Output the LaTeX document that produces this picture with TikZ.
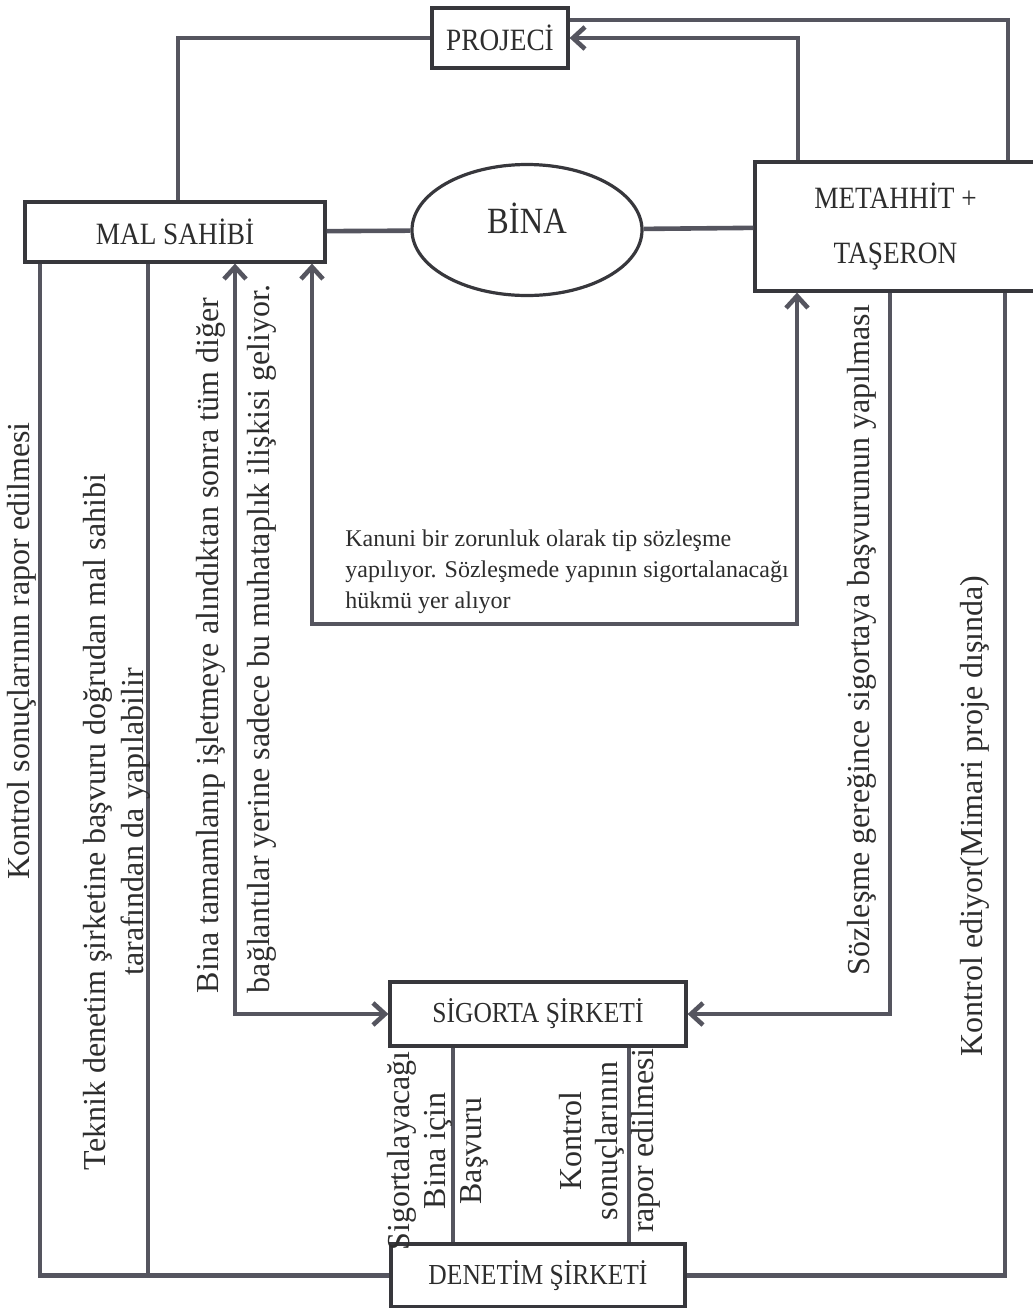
\documentclass[tikz,border=0pt]{standalone}
\usepackage{fontspec}
\setmainfont{Liberation Serif}
\newfontfamily\condfont{Liberation Serif}[FakeStretch=0.88]
\usetikzlibrary{shapes.geometric, arrows.meta}
\usepackage{xcolor}

\definecolor{linec}{RGB}{85,85,95}
\definecolor{boxc}{RGB}{55,55,60}
\definecolor{txtc}{RGB}{45,45,45}

\newcommand{\boxfont}{\condfont\fontsize{15.5}{18}\selectfont}
\newcommand{\firmfont}{\condfont\fontsize{14.5}{17}\selectfont}
\newcommand{\binafont}{\condfont\fontsize{18.5}{22}\selectfont}
\newcommand{\sidefont}{\fontsize{16}{19}\selectfont}
\newcommand{\bottomfont}{\fontsize{16}{18}\selectfont}
\newcommand{\notefont}{\fontsize{12}{15.5}\selectfont}

\tikzset{
    box/.style={draw=boxc, line width=1.6pt, fill=white, text=txtc, font=\boxfont, inner sep=2pt},
    link/.style={draw=linec, line width=2.3pt},
    arr/.style={link, -{Straight Barb[length=6pt, width=11pt]}},
    arr2/.style={link, {Straight Barb[length=6pt, width=11pt]}-{Straight Barb[length=6pt, width=11pt]}},
    side/.style={rotate=90, font=\sidefont, text=txtc, inner sep=0pt}
}

\begin{document}
\begin{tikzpicture}[x=0.5pt, y=-0.5pt]
        \useasboundingbox (0,0) rectangle (1033,1308);

        % Boxes
        \node[box, minimum width=68pt, minimum height=30pt] (proj) at (500,38) {PROJECİ};
        \node[box, minimum width=150pt, minimum height=30pt] (mal) at (175,232) {MAL SAHİBİ};
        \node[ellipse, draw=boxc, line width=1.6pt, text=txtc, font=\binafont, text depth=12pt,
              minimum width=115pt, minimum height=65.5pt] (bina) at (527,230) {BİNA};
        \node[box, align=center, minimum width=140.5pt, minimum height=64.5pt] (meta) at (895.5,226.5) {METAHHİT +\\[10pt]TAŞERON};
        \node[box, font=\firmfont, minimum width=148pt, minimum height=32pt] (sig) at (538,1014) {SİGORTA ŞİRKETİ};
        \node[box, font=\firmfont, minimum width=147pt, minimum height=31.5pt] (den) at (538,1275.5) {DENETİM ŞİRKETİ};

        % Bend points
        \coordinate (upL) at (178,0);
        \coordinate (upR) at (1008,20);
        \coordinate (upM) at (798,0);
        \coordinate (outL) at (40,0);
        \coordinate (inL) at (148,0);
        \coordinate (sigL) at (235,0);
        \coordinate (kanL) at (312,624);
        \coordinate (kanR) at (797,624);
        \coordinate (sigR) at (890,0);
        \coordinate (outR) at (1005,0);
        \coordinate (denL) at (453,0);
        \coordinate (denR) at (629,0);

        % Top links
        \draw[link] (mal.north -| upL) |- (proj.west);
        \draw[link] (proj.east |- upR) -| (meta.north -| upR);
        \draw[arr] (meta.north -| upM) |- (proj.east);
        \draw[link] (mal) -- (bina);
        \draw[link] (bina) -- (meta);

        % Links down to the companies
        \draw[link] (mal.south -| outL) |- (den.west);
        \draw[link] (mal.south -| inL) -- (den.west -| inL);
        \draw[arr2] (mal.south -| sigL) |- (sig.west);
        \draw[arr2] (mal.south -| kanL) -- (kanL) -- (kanR) -- (meta.south -| kanR);
        \draw[arr] (meta.south -| sigR) |- (sig.east);
        \draw[link] (meta.south -| outR) |- (den.east);
        \foreach \c in {denL, denR} {
            \draw[link] (sig.south -| \c) -- (den.north -| \c);
        }

        % Labels
        \node[side] (lRapor) at (22,651) {Kontrol sonuçlarının rapor edilmesi};
        \node[side, align=center] (lTeknik) at (117,822) {Teknik denetim şirketine başvuru doğrudan mal sahibi\\tarafından da yapılabilir};
        \node[side, align=left] (lBina) at (236,639) {Bina tamamlanıp işletmeye alındıktan sonra tüm diğer\\[6.5pt]bağlantılar yerine sadece bu muhataplık ilişkisi geliyor.};
        \node[font=\notefont, text=txtc, align=left, anchor=west, inner sep=0pt] (lKanun) at (345,572) {Kanuni bir zorunluk olarak tip sözleşme\\yapılıyor. Sözleşmede yapının sigortalanacağı\\hükmü yer alıyor};
        \node[side] (lSozles) at (862,640) {Sözleşme gereğince sigortaya başvurunun yapılması};
        \node[side] (lKontrol) at (975,816) {Kontrol ediyor(Mimari proje dışında)};
        \node[side, align=center, font=\bottomfont] (lBasvuru) at (438,1151) {Sigortalayacağı\\Bina için\\Başvuru};
        \node[side, align=center, font=\bottomfont] (lSonuc) at (610,1141) {Kontrol\\sonuçlarının\\rapor edilmesi};
    \end{tikzpicture}
\end{document}
